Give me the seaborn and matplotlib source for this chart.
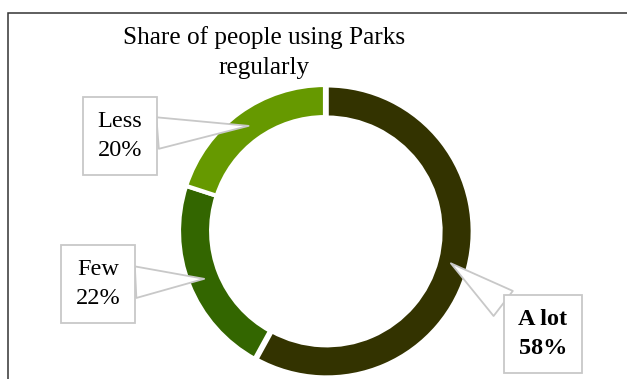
import matplotlib
matplotlib.use("Agg")
import matplotlib.pyplot as plt
import numpy as np
import seaborn as sns
from matplotlib.patches import Rectangle

# data
categories = ["A lot", "Few", "Less"]
shares = [58, 22, 20]
colors = ["#333300", "#336600", "#669900"]
title = "Share of people using Parks\nregularly"

sns.set_theme(style="white")
plt.rcParams["font.family"] = ["Liberation Serif", "DejaVu Serif"]
plt.rcParams["text.color"] = "black"

fig = plt.figure(figsize=(6.27, 3.79), dpi=100)
W, H = 627, 379

# outer frame (only left and top edges visible in reference)
fig.patches.append(Rectangle((8 / W, -0.2), 1.2, (H - 13) / H + 0.2,
                             transform=fig.transFigure, fill=False,
                             edgecolor="#333333", linewidth=1.1))

cx, cy, r = 325, H - 231, 146
ax = fig.add_axes([(cx - r) / W, (cy - r) / H, 2 * r / W, 2 * r / H])
ax.set_aspect("equal")

wedges, _ = ax.pie(shares, colors=colors, startangle=90, counterclock=False,
                   radius=1, explode=[0.012, 0, 0],
                   wedgeprops=dict(width=0.22, edgecolor="white", linewidth=3))
ax.set_xlim(-1.0, 1.0)
ax.set_ylim(-1.0, 1.0)
ax.axis("off")

# callout label centres in figure pixels
label_pos = {"A lot": (543, H - 334), "Few": (98, H - 284), "Less": (120, H - 136)}
for w, cat, val in zip(wedges, categories, shares):
    ang = np.deg2rad((w.theta1 + w.theta2) / 2)
    tip = (0.89 * np.cos(ang), 0.89 * np.sin(ang))
    ax.annotate(f"{cat}\n{val}%", xy=tip, xycoords="data",
                xytext=label_pos[cat], textcoords="figure pixels",
                ha="center", va="center", fontsize=17.5, color="black",
                fontweight="bold" if cat == "A lot" else "normal",
                linespacing=1.47,
                bbox=dict(boxstyle="square,pad=0.6", facecolor="white",
                          edgecolor="#c8c8c8", linewidth=1.3),
                arrowprops=dict(arrowstyle="wedge,tail_width=1.3,shrink_factor=0.5",
                                facecolor="white", edgecolor="#c8c8c8",
                                linewidth=1.3, shrinkA=0, shrinkB=0),
                annotation_clip=False)

fig.text(264 / W, 1 - 26 / H, title, ha="center", va="top",
         fontsize=18.2, linespacing=1.45, color="black")

fig.savefig("out.png", dpi=100)
